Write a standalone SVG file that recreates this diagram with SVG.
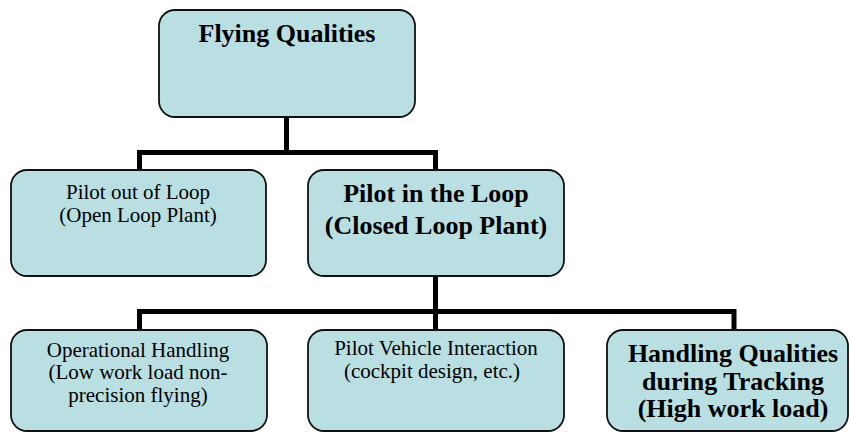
<svg xmlns="http://www.w3.org/2000/svg" width="851" height="432" viewBox="0 0 851 432">
<style>
.box{fill:#B9DFE2;stroke:#111;stroke-width:1.8}
text{font-family:'Liberation Serif','Times New Roman','DejaVu Serif',Times,serif;fill:#000;text-anchor:middle}
.r{font-size:21px}
.b{font-size:26px;font-weight:bold}
.c{fill:none;stroke:#000;stroke-width:5;stroke-linecap:butt;stroke-linejoin:miter}
</style>
<rect width="851" height="432" fill="#fff"/>
<g id="connectors">
<path class="c" d="M286.5,117 V152.5 M139.5,170 V152.5 H435.5 V170"/>
<path class="c" d="M435.5,276 V311.5 M139.5,330 V311.5 H734 V330 M435.5,311.5 V330"/>
</g>
<g id="flying-qualities" font-family="Liberation Serif, serif">
<rect class="box" x="159" y="10" width="256" height="107" rx="16"/>
<text class="b" x="287" y="42">Flying Qualities</text>
</g>
<g id="pilot-out-of-loop" font-family="Liberation Serif, serif">
<rect class="box" x="11" y="170" width="255" height="106" rx="16"/>
<text class="r" x="138" y="199">Pilot out of Loop</text>
<text class="r" x="138" y="222">(Open Loop Plant)</text>
</g>
<g id="pilot-in-the-loop" font-family="Liberation Serif, serif">
<rect class="box" x="308" y="170" width="256" height="106" rx="16"/>
<text class="b" x="436" y="202">Pilot in the Loop</text>
<text class="b" x="436" y="234">(Closed Loop Plant)</text>
</g>
<g id="operational-handling" font-family="Liberation Serif, serif">
<rect class="box" x="11" y="330" width="256" height="101" rx="16"/>
<text class="r" x="138" y="357">Operational Handling</text>
<text class="r" x="138" y="379">(Low work load non-</text>
<text class="r" x="138" y="402">precision flying)</text>
</g>
<g id="pilot-vehicle-interaction" font-family="Liberation Serif, serif">
<rect class="box" x="308" y="330" width="256" height="101" rx="16"/>
<text class="r" x="436" y="355">Pilot Vehicle Interaction</text>
<text class="r" x="432" y="378">(cockpit design, etc.)</text>
</g>
<g id="handling-qualities" font-family="Liberation Serif, serif">
<rect class="box" x="607" y="330" width="241" height="101" rx="16"/>
<text class="b" x="733" y="362">Handling Qualities</text>
<text class="b" x="733" y="390">during Tracking</text>
<text class="b" x="733" y="417">(High work load)</text>
</g>
</svg>
